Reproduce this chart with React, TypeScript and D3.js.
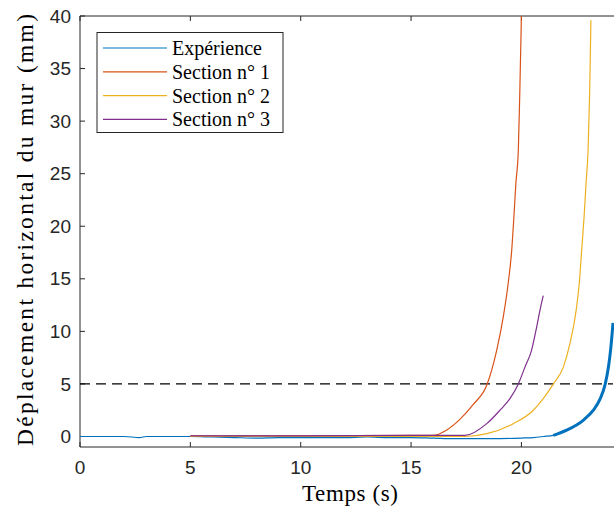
import React from "react";
import * as d3 from "d3";

// Data
const expT = [0, 1, 2, 2.7, 3, 4, 5, 6, 7, 8, 9, 10, 11, 12, 13, 14, 15, 16, 17, 18, 19, 20, 20.54, 21.0, 21.45, 22.05, 22.8, 23.26, 23.55, 23.8, 23.95, 24.05, 24.15];
const expV = [0, 0, 0, -0.1, 0, 0, 0, -0.05, -0.1, -0.15, -0.1, -0.1, -0.1, -0.1, -0.05, -0.1, -0.1, -0.15, -0.2, -0.2, -0.2, -0.15, -0.1, 0.0, 0.11, 0.6, 1.54, 2.5, 3.5, 5.0, 6.7, 8.4, 10.8];

const s1T = [5, 10, 15, 16.0, 16.6, 17.2, 17.8, 18.45, 18.88, 19.18, 19.4, 19.56, 19.66, 19.75, 19.86, 19.93, 20.0];
const s1V = [0.05, 0.05, 0.1, 0.1, 0.6, 1.6, 3.0, 5.0, 8.2, 11.4, 14.55, 17.7, 20.9, 24.1, 27.2, 33, 40];

const s2T = [5, 10, 15, 17.44, 18.43, 19.63, 20.54, 20.99, 21.45, 21.9, 22.2, 22.48, 22.62, 22.73, 22.84, 22.93, 23.02, 23.09, 23.15];
const s2V = [0.0, 0.0, 0.0, 0.0, 0.27, 1.22, 2.5, 3.6, 5.0, 6.6, 8.85, 12.0, 14.55, 17.7, 20.9, 24.1, 27.2, 32.5, 39.6];

const s3T = [5, 10, 15, 17.44, 18.43, 19.03, 19.48, 19.86, 20.16, 20.46, 20.69, 20.84, 20.99];
const s3V = [0.05, 0.05, 0.1, 0.1, 1.22, 2.5, 3.6, 5.0, 6.6, 8.2, 10.4, 12.0, 13.4];

const xTicks = [0, 5, 10, 15, 20];
const yTicks = [0, 5, 10, 15, 20, 25, 30, 35, 40];
const threshold = 5;

const legendLabels = ["Expérience", "Section n° 1", "Section n° 2", "Section n° 3"];
const colors = ["#0072BD", "#D95319", "#EDB120", "#7E2F8E"];

const W = 614;
const H = 511;
const left = 80;
const right = 613;
const top = 16;
const bottom = 447;

export default function App() {
  const x = d3.scaleLinear().domain([0, 24.15]).range([left, right]);
  const y = d3.scaleLinear().domain([-1, 40]).range([bottom, top]);

  const mk = (ts: number[], vs: number[]) =>
    d3
      .line<number>()
      .x((_, i) => x(ts[i]))
      .y((v) => y(v))
      .curve(d3.curveMonotoneX)(vs) || "";

  const series = [
    mk(expT, expV),
    mk(s1T, s1V),
    mk(s2T, s2V),
    mk(s3T, s3V),
  ];

  const endIdx = expT.findIndex((t) => t >= 21.45);
  const expEnd = mk(expT.slice(endIdx), expV.slice(endIdx));

  const serif = "'Liberation Serif', 'Times New Roman', serif";
  const sans = "'Liberation Sans', Arial, Helvetica, sans-serif";
  const axisColor = "#262626";

  return (
    <svg
      width={W}
      height={H}
      style={{ position: "absolute", left: 0, top: 0, background: "#fff" }}
    >
      <defs>
        <clipPath id="plot">
          <rect x={left} y={top} width={right - left + 2} height={bottom - top} />
        </clipPath>
      </defs>
      <rect x={0} y={0} width={W} height={H} fill="#fff" />

      {/* frame */}
      <line x1={left} y1={top} x2={W} y2={top} stroke={axisColor} strokeWidth={1} />
      <line x1={left} y1={bottom} x2={W} y2={bottom} stroke={axisColor} strokeWidth={1} />
      <line x1={left} y1={top} x2={left} y2={bottom} stroke={axisColor} strokeWidth={1} />

      {/* x ticks */}
      {xTicks.map((t) => (
        <g key={"x" + t}>
          <line x1={x(t)} x2={x(t)} y1={bottom} y2={bottom - 5} stroke={axisColor} />
          <line x1={x(t)} x2={x(t)} y1={top} y2={top + 5} stroke={axisColor} />
          <text
            x={x(t)}
            y={474}
            textAnchor="middle"
            fontFamily={sans}
            fontSize={19}
            fill={axisColor}
          >
            {t}
          </text>
        </g>
      ))}

      {/* y ticks */}
      {yTicks.map((v) => (
        <g key={"y" + v}>
          <line x1={left} x2={left + 5} y1={y(v)} y2={y(v)} stroke={axisColor} />
          <text
            x={71}
            y={y(v)}
            dy="0.35em"
            textAnchor="end"
            fontFamily={sans}
            fontSize={19}
            fill={axisColor}
          >
            {v}
          </text>
        </g>
      ))}

      <g clipPath="url(#plot)">
        {/* threshold */}
        <line
          x1={left}
          x2={right}
          y1={y(threshold)}
          y2={y(threshold)}
          stroke="#000"
          strokeWidth={1.2}
          strokeDasharray="10,6"
        />
        {series.map((d, i) => (
          <path key={i} d={d} fill="none" stroke={colors[i]} strokeWidth={1.2} />
        ))}
        <path d={expEnd} fill="none" stroke={colors[0]} strokeWidth={3} />
      </g>

      {/* axis labels */}
      <text
        x={350}
        y={501}
        textAnchor="middle"
        fontFamily={serif}
        fontSize={23}
        textLength={96}
        lengthAdjust="spacing"
        fill="#000"
      >
        Temps (s)
      </text>
      <text
        transform={`translate(33, 230) rotate(-90)`}
        textAnchor="middle"
        fontFamily={serif}
        fontSize={23.5}
        textLength={432}
        lengthAdjust="spacing"
        fill="#000"
      >
        Déplacement horizontal du mur (mm)
      </text>

      {/* legend */}
      <rect x={97} y={32.5} width={186} height={100} fill="#fff" stroke={axisColor} strokeWidth={1} />
      {legendLabels.map((lab, i) => {
        const ly = 48 + i * 23.8;
        return (
          <g key={lab}>
            <line x1={103} x2={167} y1={ly} y2={ly} stroke={colors[i]} strokeWidth={1.2} />
            <text
              x={172}
              y={ly}
              dy="0.35em"
              fontFamily={serif}
              fontSize={20}
              fill="#000"
            >
              {lab}
            </text>
          </g>
        );
      })}
    </svg>
  );
}
